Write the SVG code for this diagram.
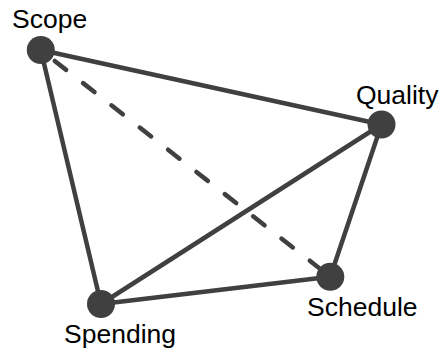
<svg xmlns="http://www.w3.org/2000/svg" width="443" height="353" viewBox="0 0 443 353">
<style>
.edge{stroke:#404040;stroke-width:4.5;fill:none;stroke-linecap:round}
.dash{stroke-dasharray:14.5 21.5;stroke-dashoffset:18.3}
.node{fill:#404040}
.label{font-family:"Liberation Sans",Arial,Helvetica,sans-serif;font-size:26.5px;fill:#000}
</style>
<rect width="443" height="353" fill="#fff"/>
<g id="connectors">
<line class="edge" x1="40.8" y1="50" x2="381.5" y2="124.5"/>
<line class="edge" x1="40.8" y1="50" x2="101" y2="304"/>
<line class="edge" x1="381.5" y1="124.5" x2="101" y2="304"/>
<line class="edge" x1="381.5" y1="124.5" x2="330.3" y2="276.8"/>
<line class="edge" x1="101" y1="304" x2="330.3" y2="276.8"/>
<line class="edge dash" x1="40.8" y1="50" x2="330.3" y2="276.8"/>
</g>
<g id="scope"><circle class="node" cx="40.8" cy="50" r="14"/><text class="label" x="12" y="28.3">Scope</text></g>
<g id="quality"><circle class="node" cx="381.5" cy="124.5" r="14"/><text class="label" x="356" y="104">Quality</text></g>
<g id="schedule"><circle class="node" cx="330.3" cy="276.8" r="14"/><text class="label" x="307" y="316">Schedule</text></g>
<g id="spending"><circle class="node" cx="101" cy="304" r="14"/><text class="label" x="64" y="342.7">Spending</text></g>
</svg>
